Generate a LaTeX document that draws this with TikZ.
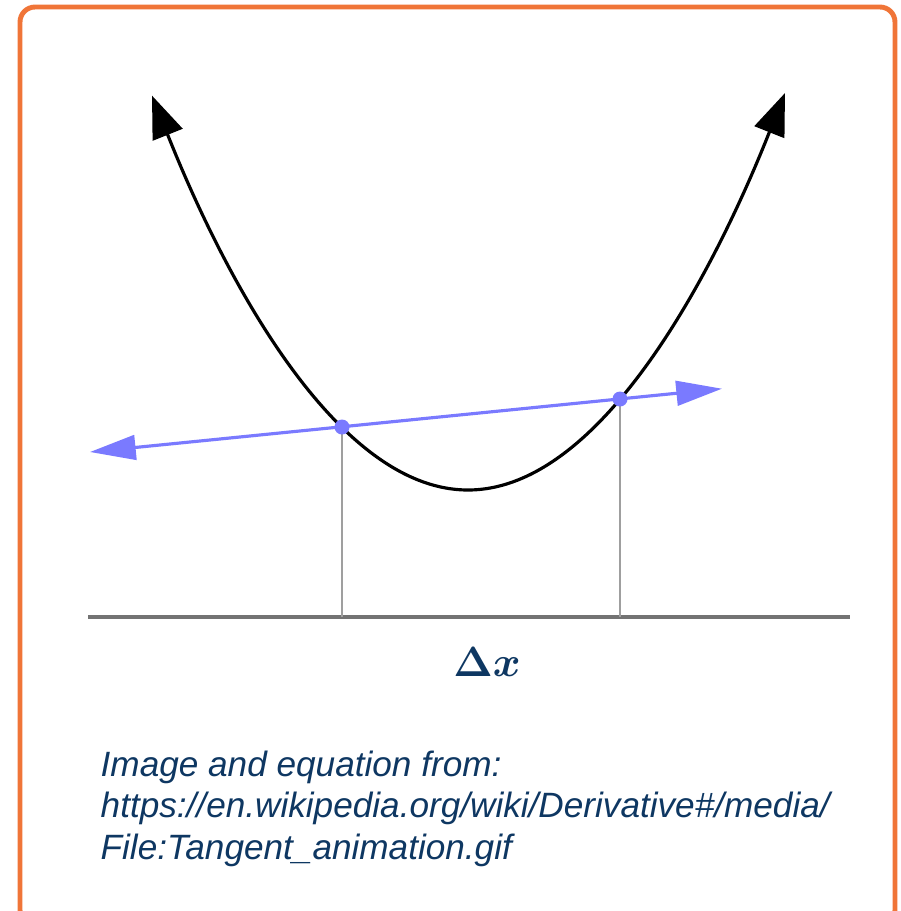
\documentclass[tikz,border=0pt]{standalone}
\usepackage{fontspec}
\setsansfont{Liberation Sans}
\usetikzlibrary{arrows.meta}
\definecolor{frameorange}{RGB}{240,117,56}
\definecolor{navy}{RGB}{14,55,98}
\definecolor{secantblue}{RGB}{122,122,255}
\begin{document}
\begin{tikzpicture}[x = 0.01cm, y = -0.01cm,
  curve/.style = {black, line width = 0.9pt,
    {Triangle[length = 12pt, width = 9pt]}-{Triangle[length = 12pt, width = 9pt]}},
  secant/.style = {secantblue, line width = 0.9pt,
    {Triangle[length = 13pt, width = 7pt]}-{Triangle[length = 13pt, width = 7pt]}},
  dot/.style = {circle, fill = secantblue, inner sep = 0pt, minimum size = 0.15cm},
  drop/.style = {gray!75, line width = 0.7pt},
  axis/.style = {gray!90!black, line width = 0.9pt},
  source/.style = {anchor = base west, inner sep = 0pt, text = navy,
    font = \sffamily\itshape\fontsize{10}{12}\selectfont}]
\useasboundingbox (0,0) rectangle (901,911);
% frame
\draw [frameorange, line width = 1.4pt, rounded corners = 0.15cm] (20,7) rectangle (895,925);
% axis and the two drops
\coordinate (A) at (342,427);
\coordinate (B) at (620,399);
\draw [axis] (88,617) coordinate (xl) -- (850,617) coordinate (xr);
\draw [drop] (A) -- (A |- xl);
\draw [drop] (B) -- (B |- xl);
% parabola
\draw [curve] (152,95.6) parabola bend (468,490) (785,93);
% secant line through the two points
\coordinate (L) at (90,452);
\coordinate (R) at (722,388.7);
\draw [secant] (L) -- (R);
\node [dot] (dotA) at (A) {};
\node [dot] (dotB) at (B) {};
% labels
\node [text = navy, anchor = base, font = \fontsize{13}{16}\selectfont\boldmath] (dx) at (487,676) {$\Delta x$};
\node [source] (src1) at (100,776) {Image and equation from:};
\node [source] (src2) at (100,817) {https://en.wikipedia.org/wiki/Derivative\#/media/};
\node [source] (src3) at (100,859) {File:Tangent\_animation.gif};
\end{tikzpicture}
\end{document}
